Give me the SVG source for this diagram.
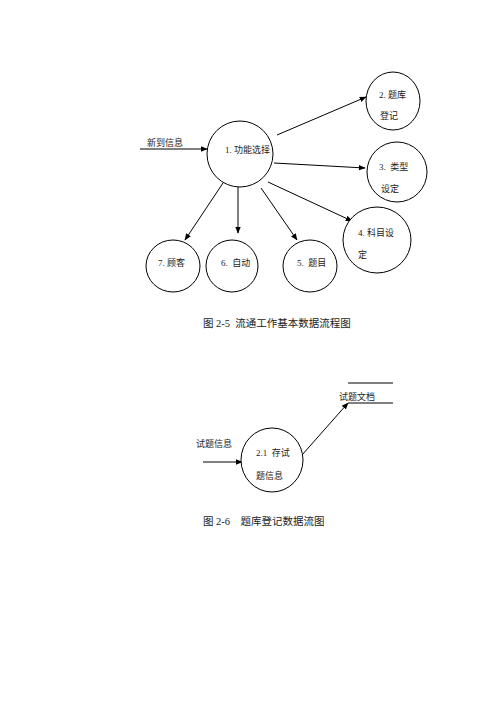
<svg xmlns="http://www.w3.org/2000/svg" width="500" height="707" viewBox="0 0 500 707">
<style>
.n{fill:#fff;stroke:#000;stroke-width:1}
.c{stroke:#000;stroke-width:1;fill:none}
text{white-space:pre}
.t{font-family:"Liberation Serif","Noto Sans CJK SC",serif;font-size:9px;fill:#222}
.cap{font-family:"Liberation Serif","Noto Sans CJK SC",serif;font-size:10.5px;fill:#222}
</style>
<defs>
<marker id="a" viewBox="0 0 10 10" refX="9" refY="5" markerWidth="7" markerHeight="7" markerUnits="userSpaceOnUse" orient="auto">
<path d="M0,1 L10,5 L0,9 z" fill="#000"/>
</marker>
</defs>
<rect width="500" height="707" fill="#fff"/>
<g id="connectors">
<line class="c" x1="140" y1="149" x2="207" y2="149" marker-end="url(#a)"/>
<line class="c" x1="277" y1="135" x2="366" y2="97" marker-end="url(#a)"/>
<line class="c" x1="274" y1="163" x2="365" y2="168" marker-end="url(#a)"/>
<line class="c" x1="268" y1="182" x2="352" y2="221" marker-end="url(#a)"/>
<line class="c" x1="223" y1="183" x2="185" y2="240" marker-end="url(#a)"/>
<line class="c" x1="238" y1="187" x2="238" y2="233" marker-end="url(#a)"/>
<line class="c" x1="261" y1="188" x2="297" y2="240" marker-end="url(#a)"/>
<line class="c" x1="203" y1="462" x2="242" y2="462" marker-end="url(#a)"/>
<line class="c" x1="302" y1="455" x2="348" y2="403" marker-end="url(#a)"/>
<line class="c" x1="348" y1="383" x2="393" y2="383"/>
<line class="c" x1="348" y1="403" x2="393" y2="403"/>
<text class="t" x="147" y="146" font-size="8">新到信息</text>
<text class="t" x="196" y="447" font-size="8">试题信息</text>
<text class="t" x="339" y="400" font-size="8">试题文档</text>
</g>
<g id="n1"><ellipse class="n" cx="240" cy="154" rx="33" ry="33"/><text class="t" x="225" y="153">1. 功能选择</text></g>
<g id="n2"><ellipse class="n" cx="393" cy="101" rx="27" ry="29"/><text class="t" x="379" y="98">2. 题库</text><text class="t" x="380" y="119">登记</text></g>
<g id="n3"><ellipse class="n" cx="397" cy="172" rx="30" ry="30"/><text class="t" x="379" y="170">3.  类型</text><text class="t" x="381" y="192">设定</text></g>
<g id="n4"><ellipse class="n" cx="377" cy="240" rx="34" ry="33"/><text class="t" x="358" y="236">4. 科目设</text><text class="t" x="358" y="258">定</text></g>
<g id="n7"><ellipse class="n" cx="173" cy="266" rx="27" ry="26"/><text class="t" x="158" y="266">7. 顾客</text></g>
<g id="n6"><ellipse class="n" cx="232" cy="266" rx="26" ry="26"/><text class="t" x="221" y="266">6.  自动</text></g>
<g id="n5"><ellipse class="n" cx="310" cy="266" rx="27" ry="26"/><text class="t" x="297" y="266">5.  题目</text></g>
<g id="n21"><ellipse class="n" cx="272" cy="460" rx="31" ry="32"/><text class="t" x="256" y="456">2.1  存试</text><text class="t" x="256" y="479">题信息</text></g>
<text class="cap" x="203" y="327">图 2-5  流通工作基本数据流程图</text>
<text class="cap" x="203" y="525">图 2-6    题库登记数据流图</text>
</svg>
